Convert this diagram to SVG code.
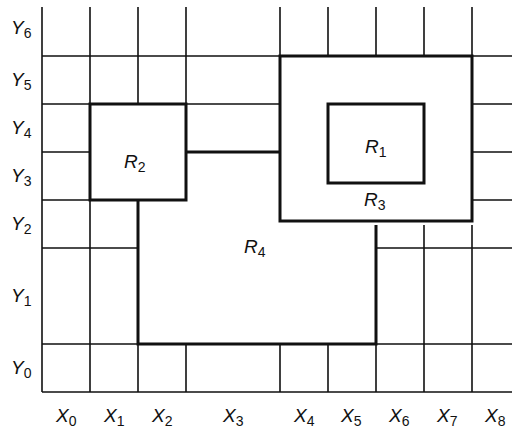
<svg xmlns="http://www.w3.org/2000/svg" width="512" height="428" viewBox="0 0 512 428">
  <style>
    .thin { fill: none; stroke: #111; stroke-width: 1.6; }
    .thick { fill: none; stroke: #111; stroke-width: 3; stroke-linejoin: miter; }
    .lbl { font-family: "Liberation Sans", Arial, sans-serif; font-size: 19px; font-style: italic; fill: #111; }
    .sub { font-size: 14px; font-style: normal; }
  </style>
  <rect width="512" height="428" fill="#fff"/>

  <!-- grid lines -->
  <g id="connectors">
    <path class="thin" d="
      M42 7V392
      M90 7V104 M90 200V392
      M138 7V104 M138 344V392
      M186 7V104 M186 344V392
      M280 7V56 M280 344V392
      M328 7V56 M328 344V392
      M376 7V56 M376 344V392
      M424 7V56 M424 225V392
      M472 7V56 M472 225V392
      M42 56H280 M472 56H512
      M42 104H90 M186 104H280 M472 104H512
      M42 152H90 M472 152H512
      M42 200H90 M472 200H512
      M42 248H138 M376 248H512
      M42 344H138 M376 344H512
      M42 392H512"/>
  </g>

  <!-- regions -->
  <g id="R3">
    <rect class="thick" x="280" y="56" width="192" height="165"/>
    <text class="lbl" x="364" y="206">R<tspan class="sub" dy="4">3</tspan></text>
  </g>
  <g id="R1">
    <rect class="thick" x="328" y="104" width="96" height="79"/>
    <text class="lbl" x="365" y="153">R<tspan class="sub" dy="4">1</tspan></text>
  </g>
  <g id="R2">
    <rect class="thick" x="90" y="104" width="96" height="96"/>
    <text class="lbl" x="124" y="168">R<tspan class="sub" dy="4">2</tspan></text>
  </g>
  <g id="R4">
    <path class="thick" d="M186 152H280 M138 200V344H376V225"/>
    <text class="lbl" x="244" y="253">R<tspan class="sub" dy="4">4</tspan></text>
  </g>

  <!-- row labels -->
  <g id="rows">
    <text class="lbl" x="11" y="34">Y<tspan class="sub" dy="4">6</tspan></text>
    <text class="lbl" x="11" y="86">Y<tspan class="sub" dy="4">5</tspan></text>
    <text class="lbl" x="11" y="134">Y<tspan class="sub" dy="4">4</tspan></text>
    <text class="lbl" x="11" y="182">Y<tspan class="sub" dy="4">3</tspan></text>
    <text class="lbl" x="11" y="230">Y<tspan class="sub" dy="4">2</tspan></text>
    <text class="lbl" x="11" y="302">Y<tspan class="sub" dy="4">1</tspan></text>
    <text class="lbl" x="11" y="374">Y<tspan class="sub" dy="4">0</tspan></text>
  </g>

  <!-- column labels -->
  <g id="cols">
    <text class="lbl" x="56" y="422">X<tspan class="sub" dy="4">0</tspan></text>
    <text class="lbl" x="104" y="422">X<tspan class="sub" dy="4">1</tspan></text>
    <text class="lbl" x="152" y="422">X<tspan class="sub" dy="4">2</tspan></text>
    <text class="lbl" x="223" y="422">X<tspan class="sub" dy="4">3</tspan></text>
    <text class="lbl" x="294" y="422">X<tspan class="sub" dy="4">4</tspan></text>
    <text class="lbl" x="341" y="422">X<tspan class="sub" dy="4">5</tspan></text>
    <text class="lbl" x="389" y="422">X<tspan class="sub" dy="4">6</tspan></text>
    <text class="lbl" x="437" y="422">X<tspan class="sub" dy="4">7</tspan></text>
    <text class="lbl" x="485" y="422">X<tspan class="sub" dy="4">8</tspan></text>
  </g>
</svg>
